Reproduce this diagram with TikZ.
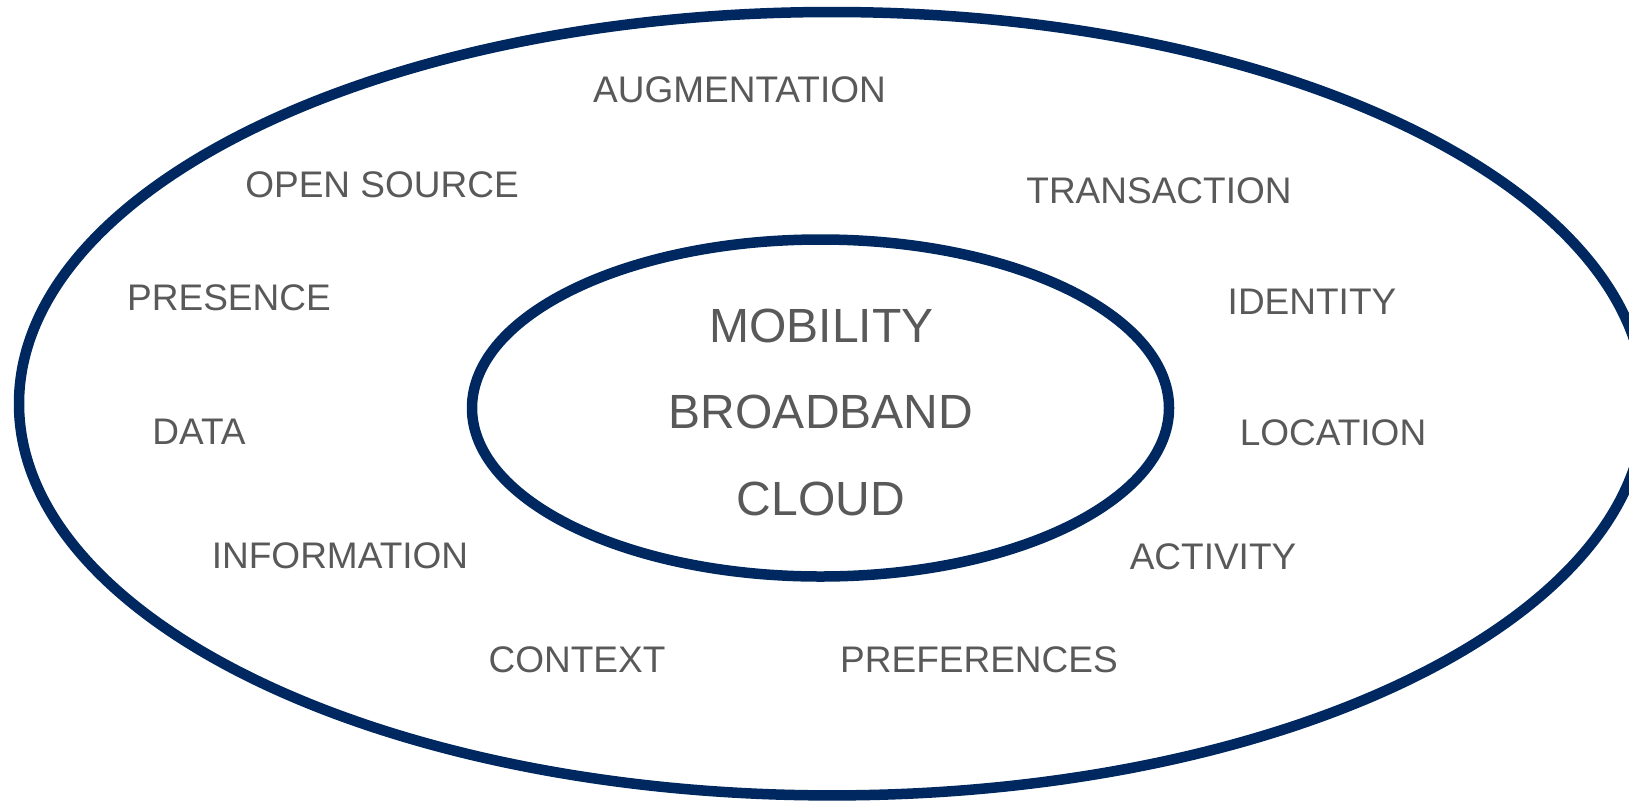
\documentclass[tikz,border=0pt]{standalone}
\usepackage{fontspec}
\setmainfont{Liberation Sans}
\definecolor{navy}{RGB}{0,40,96}
\definecolor{txtgray}{RGB}{89,89,89}
\tikzset{
  ring/.style={draw=navy, line width=10.5pt},
  outerlbl/.style={text=txtgray, inner sep=0pt, anchor=center, font=\fontsize{37}{40}\selectfont},
  corelbl/.style={text=txtgray, inner sep=0pt, anchor=center, font=\fontsize{48}{52}\selectfont}
}
\begin{document}
\begin{tikzpicture}[x=1pt,y=-1pt]
\useasboundingbox (0,0) rectangle (1629,801);
\clip (0,0) rectangle (1629,801);
\fill[white] (0,0) rectangle (1629,801);
\draw[ring] (832,403.7) ellipse [x radius=813, y radius=391.7];
\draw[ring] (820.5,408) ellipse [x radius=348.5, y radius=168.5];
\node[corelbl] (mob) at (821.5,325.8) {MOBILITY};
\node[corelbl] (bb) at (821,412) {BROADBAND};
\node[corelbl] (cl) at (821,498.7) {CLOUD};
\node[outerlbl] (aug) at (739.5,89.7) {AUGMENTATION};
\node[outerlbl] (os) at (382,184.7) {OPEN SOURCE};
\node[outerlbl] (pres) at (229,298) {PRESENCE};
\node[outerlbl] (data) at (199,432) {DATA};
\node[outerlbl] (info) at (340,555.3) {INFORMATION};
\node[outerlbl] (ctx) at (577,659.7) {CONTEXT};
\node[outerlbl] (pref) at (979,659.7) {PREFERENCES};
\node[outerlbl] (act) at (1213,556.5) {ACTIVITY};
\node[outerlbl] (loc) at (1333,432.7) {LOCATION};
\node[outerlbl] (id) at (1312,301.7) {IDENTITY};
\node[outerlbl] (tr) at (1159,191.2) {TRANSACTION};
\end{tikzpicture}
\end{document}
